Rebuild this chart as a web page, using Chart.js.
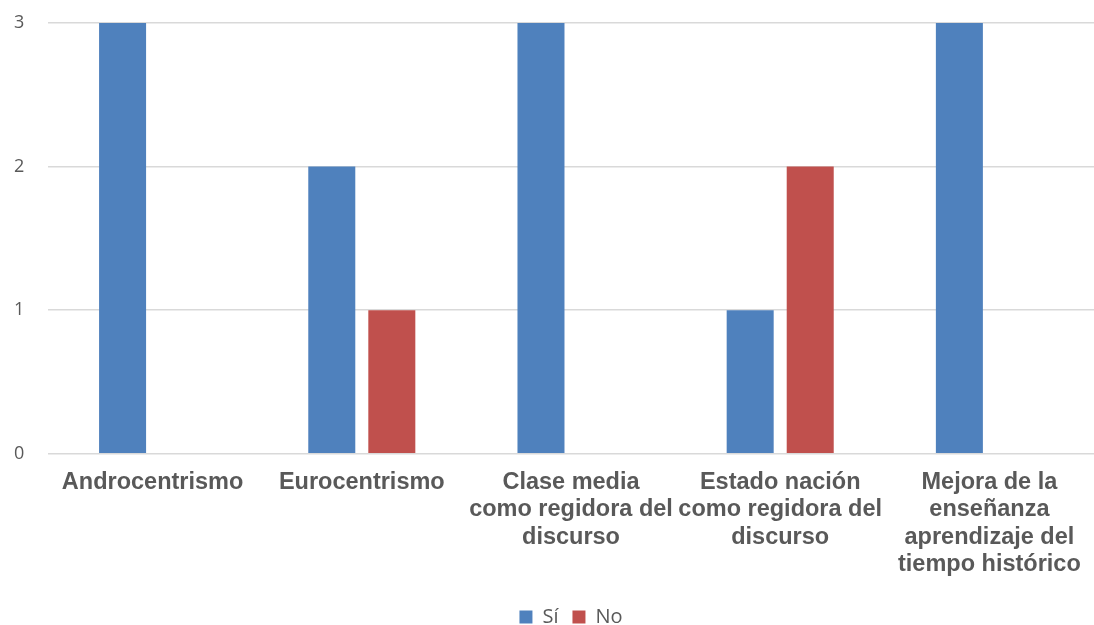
<!DOCTYPE html>
<html>
<head>
<meta charset="utf-8">
<script src="https://cdn.jsdelivr.net/npm/chart.js@4/dist/chart.umd.min.js"></script>
<style>
  html, body { margin: 0; padding: 0; background: #fff; }
  #wrap { width: 1094px; height: 625px; position: relative; }
</style>
</head>
<body>
<div id="wrap"><canvas id="chart"></canvas></div>
<script>
// categorias (etiquetas en varias lineas)
var categorias = [
  ['Androcentrismo'],
  ['Eurocentrismo'],
  ['Clase media', 'como regidora del', 'discurso'],
  ['Estado nación', 'como regidora del', 'discurso'],
  ['Mejora de la', 'enseñanza', 'aprendizaje del', 'tiempo histórico']
];
var valoresSi = [3, 2, 3, 1, 3];
var valoresNo = [0, 1, 0, 2, 0];
var ticksY = [0, 1, 2, 3];

var gris = '#595959';

var ctx = document.getElementById('chart').getContext('2d');
new Chart(ctx, {
  type: 'bar',
  data: {
    labels: categorias,
    datasets: [
      { label: 'Sí', data: valoresSi, backgroundColor: '#4F81BD',
        categoryPercentage: 0.574, barPercentage: 0.783 },
      { label: 'No', data: valoresNo, backgroundColor: '#C0504D',
        categoryPercentage: 0.574, barPercentage: 0.783 }
    ]
  },
  options: {
    responsive: true,
    maintainAspectRatio: false,
    animation: false,
    // padding inferior negativo para bajar la leyenda al borde
    layout: { padding: { top: 23, right: 0, bottom: -12, left: 14 } },
    plugins: {
      tooltip: { enabled: false },
      legend: {
        position: 'bottom',
        fullSize: false,
        labels: {
          boxWidth: 13, boxHeight: 13, padding: 14,
          color: gris,
          font: { family: 'Open Sans, Liberation Sans', size: 20 }
        }
      }
    },
    scales: {
      x: {
        grid: { display: false },
        border: { display: false },
        ticks: {
          color: gris, padding: 7,
          maxRotation: 0, autoSkip: false,
          font: { family: 'Liberation Sans, Arial', size: 23.5, weight: 'bold', lineHeight: 1.17 }
        },
        afterFit: function (s) { s.height = 139.3; }
      },
      y: {
        min: 0, max: 3,
        afterBuildTicks: function (s) { s.ticks = ticksY.map(function (v) { return { value: v }; }); },
        grid: { color: '#d9d9d9', lineWidth: 1.5, drawTicks: false },
        border: { display: false },
        ticks: {
          color: gris, padding: 0, crossAlign: 'far',
          font: { family: 'Open Sans, Liberation Sans', size: 18 }
        },
        afterFit: function (s) { s.width = 34; }
      }
    }
  }
});
</script>
</body>
</html>
